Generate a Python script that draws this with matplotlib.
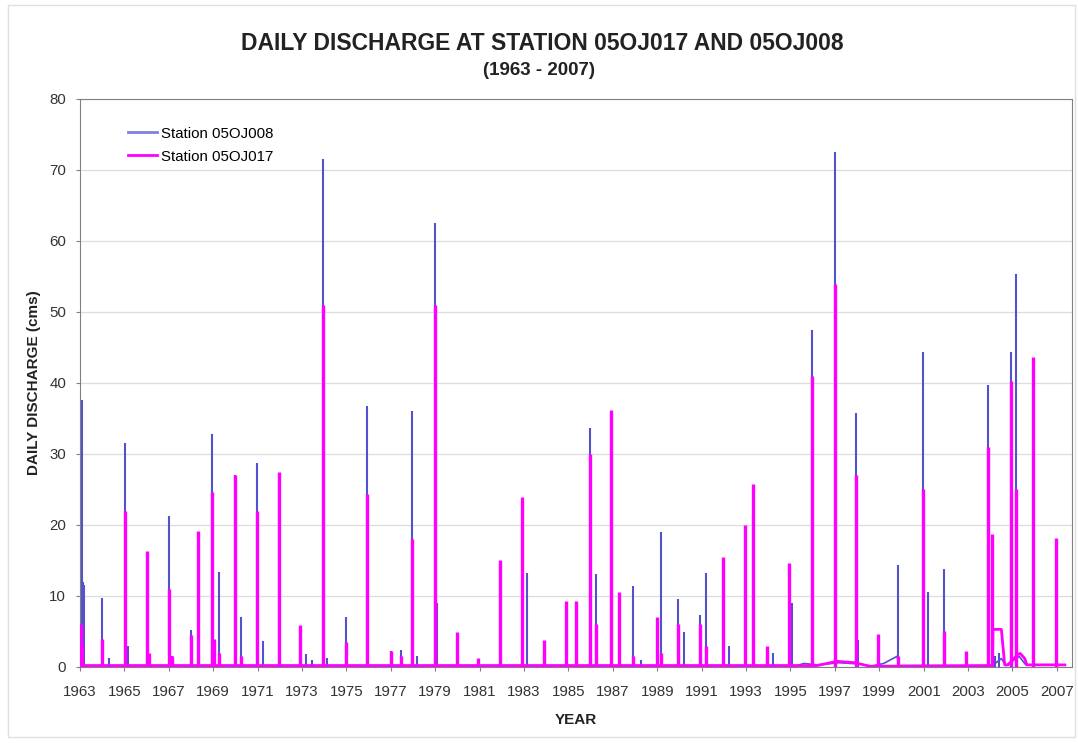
import matplotlib.pyplot as plt
from matplotlib.lines import Line2D
from matplotlib.patches import Rectangle

plt.rcParams['font.family'] = ['Liberation Sans', 'DejaVu Sans']

# peak events (decimal year, daily discharge in cms)
years_008 = [1963.08, 1963.13, 1963.20, 1963.99, 1964.30, 1965.03, 1965.16, 1966.02,
             1967.01, 1967.15, 1968.00, 1968.95, 1969.27, 1969.99, 1970.26, 1970.98,
             1971.25, 1971.97, 1972.92, 1973.19, 1973.46, 1973.96, 1974.14, 1974.99,
             1975.94, 1977.02, 1977.47, 1977.97, 1978.19, 1979.00, 1979.08, 1979.99,
             1980.94, 1981.94, 1983.15, 1983.92, 1985.95, 1986.22, 1986.94, 1987.93,
             1988.29, 1989.15, 1989.92, 1990.19, 1990.91, 1991.18, 1992.22, 1993.30,
             1993.93, 1994.20, 1995.06, 1995.96, 1996.99, 1997.94, 1998.06, 1998.93,
             1999.84, 2000.96, 2001.19, 2001.91, 2003.89, 2004.20, 2004.38, 2004.93,
             2005.16, 2006.96]
peaks_008 = [37.6, 12.0, 11.5, 9.7, 1.2, 31.5, 2.9, 16.0,
             21.3, 1.5, 5.2, 32.8, 13.4, 27.0, 7.0, 28.8,
             3.7, 27.2, 5.6, 1.9, 1.0, 71.5, 1.3, 7.0,
             36.7, 2.3, 2.4, 36.1, 1.5, 62.5, 9.0, 1.0,
             1.0, 14.5, 13.3, 2.0, 33.7, 13.1, 35.5, 11.4,
             1.0, 19.0, 9.6, 4.9, 7.3, 13.2, 3.0, 21.0,
             2.0, 2.0, 9.0, 47.5, 72.6, 35.8, 3.8, 2.0,
             14.3, 44.3, 10.5, 13.8, 39.7, 1.5, 2.0, 44.3,
             55.3, 1.0]

years_017 = [1963.04, 1963.10, 1963.99, 1965.03, 1966.02, 1966.12, 1967.01, 1967.15,
             1968.00, 1968.32, 1968.95, 1969.05, 1969.27, 1969.99, 1970.26, 1970.98,
             1971.97, 1972.92, 1973.96, 1974.99, 1975.94, 1977.02, 1977.47, 1977.97,
             1979.00, 1979.99, 1980.94, 1981.94, 1982.93, 1983.92, 1984.91, 1985.32,
             1985.95, 1986.22, 1986.94, 1987.30, 1987.93, 1988.97, 1989.15, 1989.92,
             1990.91, 1991.18, 1991.94, 1992.94, 1993.30, 1993.93, 1994.92, 1995.96,
             1996.99, 1997.94, 1998.93, 1999.84, 2000.96, 2001.91, 2002.90, 2003.89,
             2004.07, 2004.93, 2005.16, 2005.92, 2006.96]
peaks_017 = [6.0, 3.0, 4.0, 22.0, 16.3, 2.0, 11.0, 1.5,
             4.5, 19.2, 24.7, 4.0, 2.0, 27.1, 1.5, 22.0,
             27.4, 5.9, 51.0, 3.5, 24.3, 2.2, 1.5, 18.0,
             51.0, 4.9, 1.3, 15.0, 24.0, 3.8, 9.3, 9.3,
             30.0, 6.0, 36.2, 10.6, 1.5, 7.1, 2.0, 6.0,
             6.0, 3.0, 15.5, 20.0, 25.8, 3.0, 14.7, 41.0,
             54.0, 27.0, 4.6, 1.5, 25.0, 5.0, 2.2, 31.0,
             18.7, 40.3, 25.0, 43.6, 18.2]

# low-flow line between the peaks
base_years_008 = [1963.0, 1995.3, 1995.6, 1996.2, 1997.2, 1998.2, 1998.6, 1999.2, 1999.8,
                  1999.9, 2004.1, 2004.5, 2004.7, 2005.3, 2005.6, 2007.36]
base_vals_008 = [0.2, 0.2, 0.5, 0.3, 0.6, 0.4, 0.1, 0.5, 1.5,
                 0.2, 0.2, 1.2, 0.2, 1.5, 0.3, 0.3]
base_years_017 = [1963.0, 1996.2, 1997.1, 1997.9, 1998.3, 1998.6, 2004.10, 2004.12, 2004.50,
                  2004.65, 2004.80, 2005.25, 2005.35, 2005.55, 2005.65, 2007.36]
base_vals_017 = [0.2, 0.2, 0.8, 0.6, 0.3, 0.1, 0.2, 5.3, 5.3,
                 0.3, 0.3, 1.8, 1.9, 1.2, 0.3, 0.3]

year_ticks = list(range(1963, 2008, 2))
blue = '#5252cc'
magenta = '#ff00ff'

fig = plt.figure(figsize=(10.78, 7.43), dpi=100)
ax = fig.add_axes([0.0742, 0.1023, 0.9202, 0.7645])

ax.plot(base_years_008, base_vals_008, color=blue, lw=1.2, zorder=2)
ax.vlines(years_008, 0, peaks_008, color=blue, lw=1.5, zorder=2)
ax.plot(base_years_017, base_vals_017, color=magenta, lw=2.0, zorder=3)
ax.vlines(years_017, 0, peaks_017, color=magenta, lw=2.4, zorder=3)

ax.set_xlim(1963.0, 2007.68)
ax.set_ylim(0, 80)
ax.set_xticks(year_ticks)
ax.set_yticks(range(0, 81, 10))
ax.tick_params(labelsize=10.8, colors='#333333', length=3, color='#808080')
ax.tick_params(axis='x', pad=10)
ax.tick_params(axis='y', pad=7)
ax.grid(axis='y', color='#dddddd', lw=0.9)
ax.set_axisbelow(True)
for s in ax.spines.values():
    s.set_color('#808080')

ax.set_xlabel('YEAR', fontsize=11, fontweight='bold', labelpad=10, color='#222222')
ax.set_ylabel('DAILY DISCHARGE (cms)', fontsize=11, fontweight='bold', labelpad=6, color='#222222')

fig.text(0.503, 0.941, 'DAILY DISCHARGE AT STATION 05OJ017 AND 05OJ008',
         ha='center', va='center', fontsize=16.5, fontweight='bold', color='#222222')
fig.text(0.5, 0.905, '(1963 - 2007)', ha='center', va='center',
         fontsize=13.5, fontweight='bold', color='#222222')

handles = [Line2D([], [], color='#8080e0', lw=2),
           Line2D([], [], color=magenta, lw=2)]
ax.legend(handles, ['Station 05OJ008', 'Station 05OJ017'], loc='upper left',
          bbox_to_anchor=(0.035, 0.975), frameon=False, fontsize=10.8,
          handlelength=1.9, handletextpad=0.3, labelspacing=0.6)

fig.patches.append(Rectangle((0.007, 0.008), 0.99, 0.985, transform=fig.transFigure,
                             fill=False, edgecolor='#e0e0e0', lw=1))

fig.savefig('out.png', dpi=100)
